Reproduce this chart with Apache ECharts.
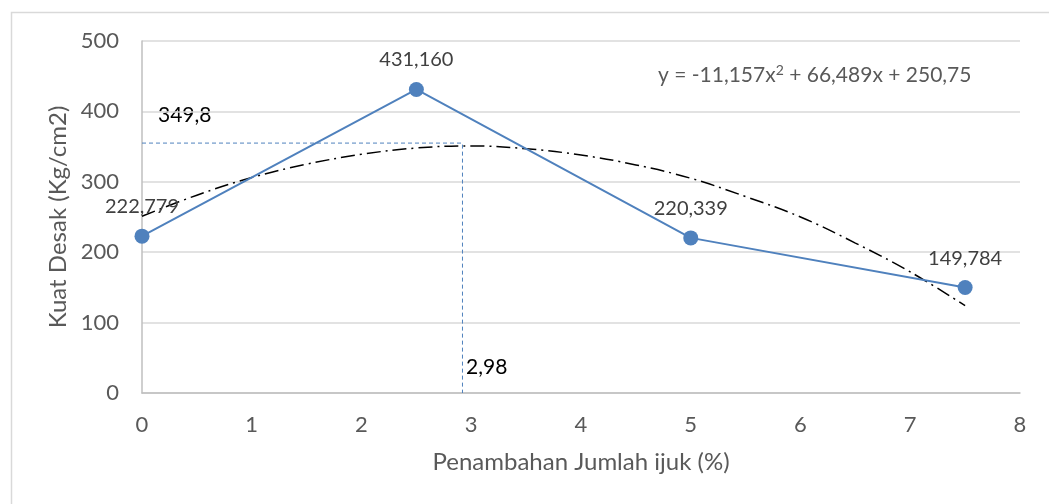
<!DOCTYPE html>
<html>
<head>
<meta charset="utf-8">
<script src="https://cdn.jsdelivr.net/npm/echarts@6/dist/echarts.min.js"></script>
<style>
  html, body { margin: 0; padding: 0; background: #fff; }
  #chart { width: 1049px; height: 504px; }
</style>
</head>
<body>
<div id="chart"></div>
<script>
// data
const ijuk = [0, 2.5, 5, 7.5]
const kuatDesak = [222.779, 431.160, 220.339, 149.784]
const labelText = ['222,779', '431,160', '220,339', '149,784']

// trendline points
const trendX = [0, 0.5, 1, 1.5, 2, 2.5, 3, 3.5, 4, 4.5, 5, 5.5, 6, 6.5, 7, 7.5]
const trendY = [251, 281, 306, 325, 339, 348, 351, 347, 338, 324, 305, 279, 250, 213, 172, 124]

// optimum guide lines
const optX = 2.92
const optY = 355

const chart = echarts.init(document.getElementById('chart'))

const font = 'Lato, "Open Sans", sans-serif'

chart.setOption({
  animation: false,
  textStyle: { fontFamily: font },
  grid: { left: 142, right: 29, top: 41, bottom: 111 },
  xAxis: {
    type: 'value',
    min: 0, max: 8, interval: 1,
    name: 'Penambahan Jumlah ijuk (%)',
    nameLocation: 'middle',
    nameGap: 57,
    nameTextStyle: { color: '#595959', fontSize: 24, fontFamily: font },
    axisLine: { show: true, lineStyle: { color: '#bfbfbf', width: 1.5 } },
    axisTick: { show: false },
    axisLabel: { color: '#595959', fontSize: 22, margin: 21, fontFamily: font },
    splitLine: { show: false }
  },
  yAxis: {
    type: 'value',
    min: 0, max: 500, interval: 100,
    name: 'Kuat Desak (Kg/cm2)',
    nameLocation: 'middle',
    nameGap: 69,
    nameRotate: 90,
    nameTextStyle: { color: '#595959', fontSize: 24, fontFamily: font },
    axisLine: { show: true, lineStyle: { color: '#bfbfbf', width: 1.5 } },
    axisTick: { show: false },
    axisLabel: { color: '#595959', fontSize: 22, margin: 23, fontFamily: font },
    splitLine: { show: true, lineStyle: { color: '#d9d9d9', width: 1.5 } }
  },
  graphic: [
    {
      type: 'rect',
      left: 9, top: 10, z: -1,
      shape: { width: 1200, height: 600 },
      style: { fill: 'none', stroke: '#d9d9d9', lineWidth: 1.5 }
    },
    {
      type: 'text',
      left: 658, top: 63,
      style: {
        text: '{a|y = -11,157x}{s|2}{a| + 66,489x + 250,75}',
        rich: {
          a: { fontSize: 21, fill: '#595959', fontFamily: font, verticalAlign: 'bottom' },
          s: { fontSize: 14, fill: '#595959', fontFamily: font, padding: [0, 0, 9, 0], verticalAlign: 'bottom' }
        }
      }
    },
    {
      type: 'text',
      left: 158, top: 105,
      style: { text: '349,8', fontSize: 21, fill: '#000', fontFamily: font }
    },
    {
      type: 'text',
      left: 466, top: 357,
      style: { text: '2,98', fontSize: 21, fill: '#000', fontFamily: font }
    }
  ],
  series: [
    {
      name: 'guide',
      type: 'line',
      data: [[0, optY], [optX, optY], [optX, 0]],
      symbol: 'none',
      lineStyle: { color: '#4f81bd', width: 1, type: [4, 3] },
      z: 1
    },
    {
      name: 'trend',
      type: 'line',
      data: trendX.map((x, i) => [x, trendY[i]]),
      symbol: 'none',
      smooth: 0.4,
      lineStyle: { color: '#000', width: 1.5, type: [14, 5, 2, 5] },
      z: 2
    },
    {
      name: 'Kuat Desak',
      type: 'line',
      data: ijuk.map((x, i) => [x, kuatDesak[i]]),
      symbol: 'circle',
      symbolSize: 15,
      itemStyle: { color: '#4f81bd' },
      lineStyle: { color: '#4f81bd', width: 2 },
      label: {
        show: true,
        position: 'top',
        distance: 12,
        color: '#404040',
        fontSize: 20,
        fontFamily: font,
        formatter: p => labelText[p.dataIndex]
      },
      z: 3
    }
  ]
})
</script>
</body>
</html>
